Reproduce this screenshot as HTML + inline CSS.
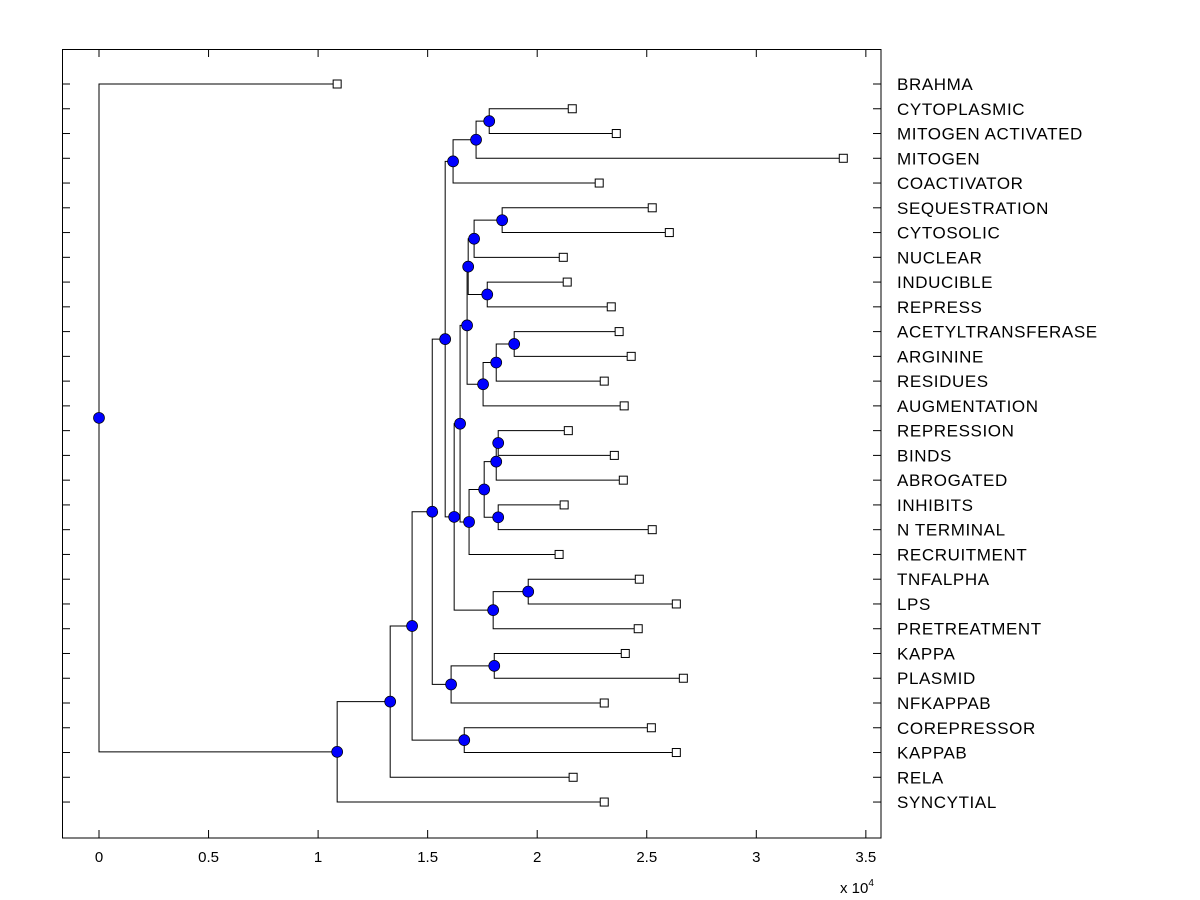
<!DOCTYPE html>
<html><head><meta charset="utf-8"><style>
html,body{margin:0;padding:0;background:#fff;}
svg{display:block;font-family:"Liberation Sans",Arial,sans-serif;}
</style></head><body>
<svg id="chart" width="1200" height="900" viewBox="0 0 1200 900" xmlns="http://www.w3.org/2000/svg">
<rect x="0" y="0" width="1200" height="900" fill="#fff"/>
<rect x="62.5" y="49.5" width="818.5" height="788.5" fill="#fff" stroke="#000" stroke-width="1"/>
<g id="axes"></g>
<g id="tree"></g>
<text x="840" y="893" font-size="15">x 10<tspan dy="-7" font-size="10">4</tspan></text>
</svg>
<script>
const leafNames = ["BRAHMA","CYTOPLASMIC","MITOGEN ACTIVATED","MITOGEN","COACTIVATOR","SEQUESTRATION","CYTOSOLIC","NUCLEAR","INDUCIBLE","REPRESS","ACETYLTRANSFERASE","ARGININE","RESIDUES","AUGMENTATION","REPRESSION","BINDS","ABROGATED","INHIBITS","N TERMINAL","RECRUITMENT","TNFALPHA","LPS","PRETREATMENT","KAPPA","PLASMID","NFKAPPAB","COREPRESSOR","KAPPAB","RELA","SYNCYTIAL"];
const leafDist = [1.087,2.160,2.361,3.397,2.283,2.525,2.603,2.119,2.137,2.338,2.374,2.429,2.306,2.397,2.142,2.352,2.393,2.123,2.525,2.100,2.466,2.635,2.461,2.402,2.667,2.306,2.521,2.635,2.164,2.306];
// internal nodes (index 30+): children pairs and distances
const nodeChildren = [[1,2],[30,3],[31,4],[5,6],[33,7],[8,9],[34,35],[10,11],[37,12],[38,13],[36,39],[14,15],[41,16],[17,18],[42,43],[44,19],[40,45],[20,21],[47,22],[46,48],[32,49],[23,24],[51,25],[50,52],[26,27],[53,54],[55,28],[56,29],[0,57]];
const nodeDist = [1.781,1.721,1.616,1.840,1.712,1.772,1.685,1.895,1.813,1.753,1.680,1.822,1.813,1.822,1.758,1.689,1.648,1.959,1.799,1.621,1.580,1.804,1.607,1.521,1.667,1.429,1.329,1.087,0];
const xTicks = [0,0.5,1,1.5,2,2.5,3,3.5];
const xTickLabels = ["0","0.5","1","1.5","2","2.5","3","3.5"];

const NS="http://www.w3.org/2000/svg";
const X0=99, XS=219.1, Y0=84, YS=24.76;
const xs=v=>X0+v*XS;
const ys=i=>Y0+i*YS;
function mk(tag,attrs,parent){const e=document.createElementNS(NS,tag);for(const k in attrs)e.setAttribute(k,attrs[k]);parent.appendChild(e);return e;}
const axes=document.getElementById('axes'), tree=document.getElementById('tree');

xTicks.forEach((t,i)=>{
  const x=xs(t);
  const a=mk('line',{x1:x,x2:x,y1:838,y2:830,stroke:'#000'},axes);
  
  
  const b=mk('line',{x1:x,x2:x,y1:49,y2:57,stroke:'#000'},axes);
  
  
  const l=mk('text',{x:x,y:862,'font-size':15,'text-anchor':'middle'},axes);
  l.textContent=xTickLabels[i];
  
  
});

leafNames.forEach((n,i)=>{
  const y=ys(i);
  const a=mk('line',{x1:62,x2:70,y1:y,y2:y,stroke:'#000'},axes);
  
  
  const b=mk('line',{x1:873,x2:881,y1:y,y2:y,stroke:'#000'},axes);
  
  
  const t=mk('text',{x:897,y:y+6,'font-size':17,'letter-spacing':0.6},axes);
  t.textContent=n;
  
  
});

const N=leafNames.length;
const dist=i=>i<N?leafDist[i]:nodeDist[i-N];
const yCache={};
function yOf(i){ if(i<N) return ys(i); if(yCache[i]!=null) return yCache[i];
  const c=nodeChildren[i-N]; return yCache[i]=(yOf(c[0])+yOf(c[1]))/2; }

const edges=mk('g',{},tree), marks=mk('g',{},tree);
nodeChildren.forEach((c,k)=>{
  const i=k+N, px=xs(dist(i)), py=yOf(i);
  c.forEach(ch=>{
    const p=mk('path',{d:`M${px},${py}V${yOf(ch)}H${xs(dist(ch))}`,fill:'none',stroke:'#000','stroke-width':1},edges);
    
    
  });
});
nodeChildren.forEach((c,k)=>{
  const i=k+N;
  const d=mk('circle',{cx:xs(dist(i)),cy:yOf(i),r:5.5,fill:'#0000ff',stroke:'#000','stroke-width':0.7},marks);
  
  
});
leafNames.forEach((n,i)=>{
  const r=mk('rect',{x:xs(leafDist[i])-4,y:ys(i)-4,width:8,height:8,fill:'#fff',stroke:'#000','stroke-width':1},marks);
  
  
});
</script>
</body></html>
